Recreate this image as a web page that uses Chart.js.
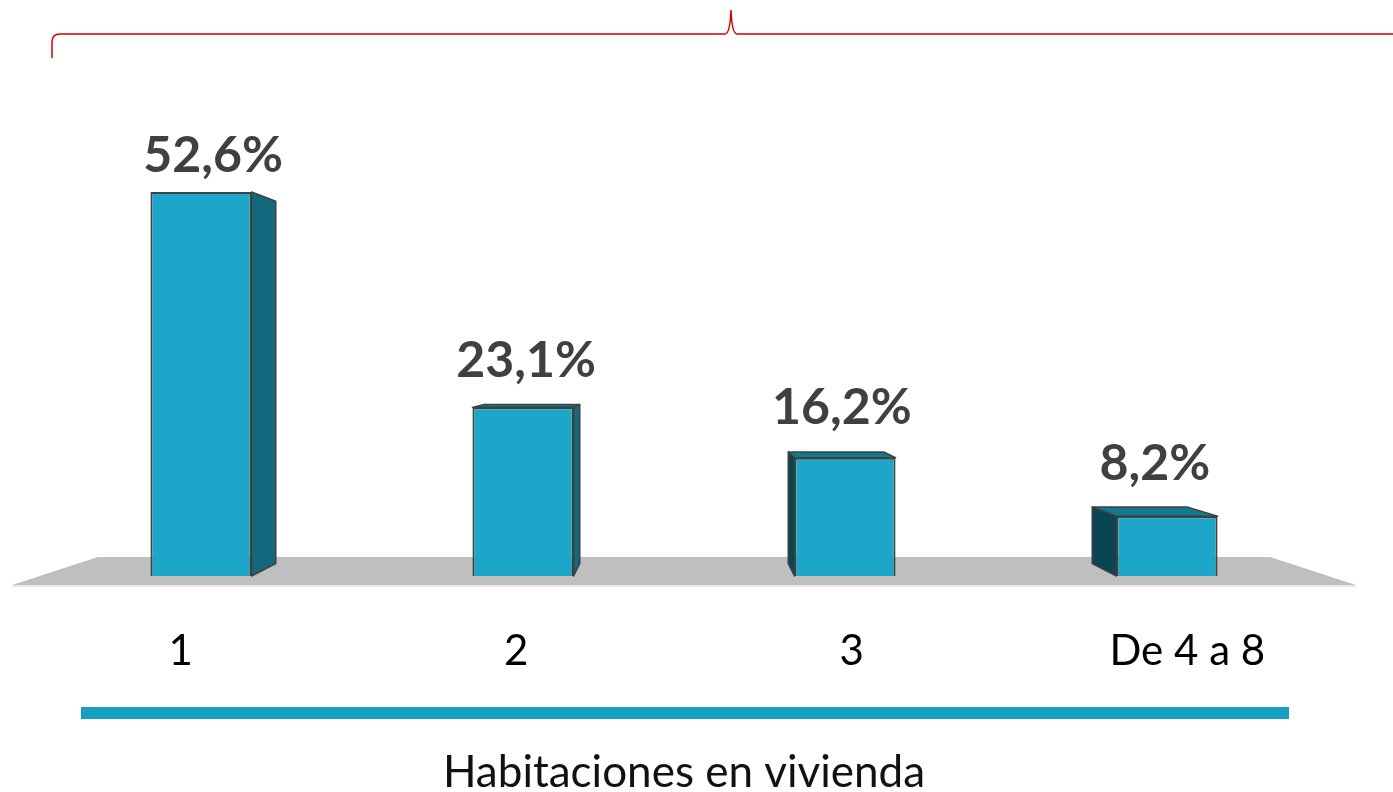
<!DOCTYPE html>
<html>
<head>
<meta charset="utf-8">
<script src="https://cdn.jsdelivr.net/npm/chart.js@4.4.0/dist/chart.umd.min.js"></script>
<style>
  html, body { margin: 0; padding: 0; background: #fff; }
  #wrap { width: 1393px; height: 792px; }
</style>
</head>
<body>
<div id="wrap"><canvas id="myChart" width="1393" height="792"></canvas></div>
<script>
var categories = ['1', '2', '3', 'De 4 a 8'];
var values = [52.6, 23.1, 16.2, 8.2];
var valueLabels = ['52,6%', '23,1%', '16,2%', '8,2%'];
var axisTitle = 'Habitaciones en vivienda';

// perspective look: vanishing point sits above the floor, at the middle
var depth = 0.056;

function backPoint(p, vp) {
    return { x: vp.x + (p.x - vp.x) * (1 - depth), y: vp.y + (p.y - vp.y) * (1 - depth) };
}

var threeD = {
    id: 'threeD',
    beforeDatasetsDraw: function (chart) {
        var c = chart.ctx, a = chart.chartArea;
        var zeroY = chart.scales.y.getPixelForValue(0);
        var cx = (a.left + a.right) / 2;
        var vp = { x: cx, y: zeroY - 221 };

        // red brace at the top
        c.save();
        c.strokeStyle = '#d00000';
        c.lineWidth = 1.5;
        c.beginPath();
        c.moveTo(52, 58);
        c.lineTo(52, 42);
        c.quadraticCurveTo(52, 34, 60, 34);
        c.lineTo(725, 34);
        c.quadraticCurveTo(730, 34, 731, 10);
        c.quadraticCurveTo(732, 34, 737, 34);
        c.lineTo(1393, 34);
        c.stroke();
        c.restore();

        // floor
        var fl = a.left - 28, fr = a.right + 28;
        var half = (fr - fl) / 2 * 0.872;
        c.save();
        c.fillStyle = '#e6e6e6';
        c.beginPath();
        c.moveTo(fl, zeroY + 11);
        c.lineTo(fr, zeroY + 11);
        c.lineTo(fr, zeroY + 9);
        c.lineTo(fl, zeroY + 9);
        c.fill();
        c.fillStyle = '#bfbfbf';
        c.beginPath();
        c.moveTo(cx - half, zeroY - 19);
        c.lineTo(cx + half, zeroY - 19);
        c.lineTo(fr, zeroY + 9);
        c.lineTo(fl, zeroY + 9);
        c.closePath();
        c.fill();
        c.restore();

        // side and top faces of each bar
        var meta = chart.getDatasetMeta(0);
        c.save();
        c.strokeStyle = '#404040';
        c.lineWidth = 1.5;
        c.lineJoin = 'round';
        meta.data.forEach(function (bar) {
            var l = bar.x - bar.width / 2, r = bar.x + bar.width / 2;
            var t = bar.y, b = bar.base;
            var lt = backPoint({ x: l, y: t }, vp), rt = backPoint({ x: r, y: t }, vp);
            var lb = backPoint({ x: l, y: b }, vp), rb = backPoint({ x: r, y: b }, vp);
            if (t > vp.y) {
                c.fillStyle = '#10788f';
                c.beginPath();
                c.moveTo(l, t); c.lineTo(r, t); c.lineTo(rt.x, rt.y); c.lineTo(lt.x, lt.y);
                c.closePath(); c.fill(); c.stroke();
            }
            if (r < cx) {
                c.fillStyle = '#12687c';
                c.beginPath();
                c.moveTo(r, t); c.lineTo(rt.x, rt.y); c.lineTo(rb.x, rb.y); c.lineTo(r, b);
                c.closePath(); c.fill(); c.stroke();
            } else if (l > cx) {
                c.fillStyle = '#0b4452';
                c.beginPath();
                c.moveTo(l, t); c.lineTo(lt.x, lt.y); c.lineTo(lb.x, lb.y); c.lineTo(l, b);
                c.closePath(); c.fill(); c.stroke();
            }
        });
        c.restore();
    },
    afterDatasetsDraw: function (chart) {
        var c = chart.ctx, a = chart.chartArea;
        var zeroY = chart.scales.y.getPixelForValue(0);
        var cx = (a.left + a.right) / 2;
        var meta = chart.getDatasetMeta(0);

        c.save();
        c.textAlign = 'center';
        c.textBaseline = 'alphabetic';
        meta.data.forEach(function (bar, i) {
            var l = bar.x - bar.width / 2, r = bar.x + bar.width / 2;
            var shift = 0;
            if (r < cx) shift = (cx - r) * depth / 2;
            else if (l > cx) shift = -(l - cx) * depth / 2;
            c.fillStyle = '#404040';
            c.font = 'bold 50px Lato';
            c.fillText(valueLabels[i], bar.x + shift, bar.y - 20 - (bar.y - 192) * 0.05);

            c.fillStyle = '#000';
            c.font = '42px Lato';
            c.fillText(categories[i], bar.x + (bar.x - cx) * 0.042, zeroY + 89);
        });

        // teal rule and axis title
        c.fillStyle = '#169fc0';
        c.fillRect(81, zeroY + 131, 1208, 12);
        c.fillStyle = '#111';
        c.font = '44px Lato';
        c.fillText(axisTitle, cx, zeroY + 211);
        c.restore();
    }
};

var ctx = document.getElementById('myChart').getContext('2d');
var chart = new Chart(ctx, {
    type: 'bar',
    data: {
        labels: categories,
        datasets: [{
            data: values,
            backgroundColor: '#1ca6ca',
            borderColor: '#404040',
            borderWidth: 2,
            barPercentage: 0.314,
            categoryPercentage: 1
        }]
    },
    options: {
        responsive: false,
        animation: false,
        layout: { padding: { left: 40, right: 65, top: 138, bottom: 216 } },
        plugins: { legend: { display: false }, tooltip: { enabled: false } },
        scales: {
            x: { display: false },
            y: { display: false, min: 0, max: 60 }
        }
    },
    plugins: [threeD]
});
</script>
</body>
</html>
